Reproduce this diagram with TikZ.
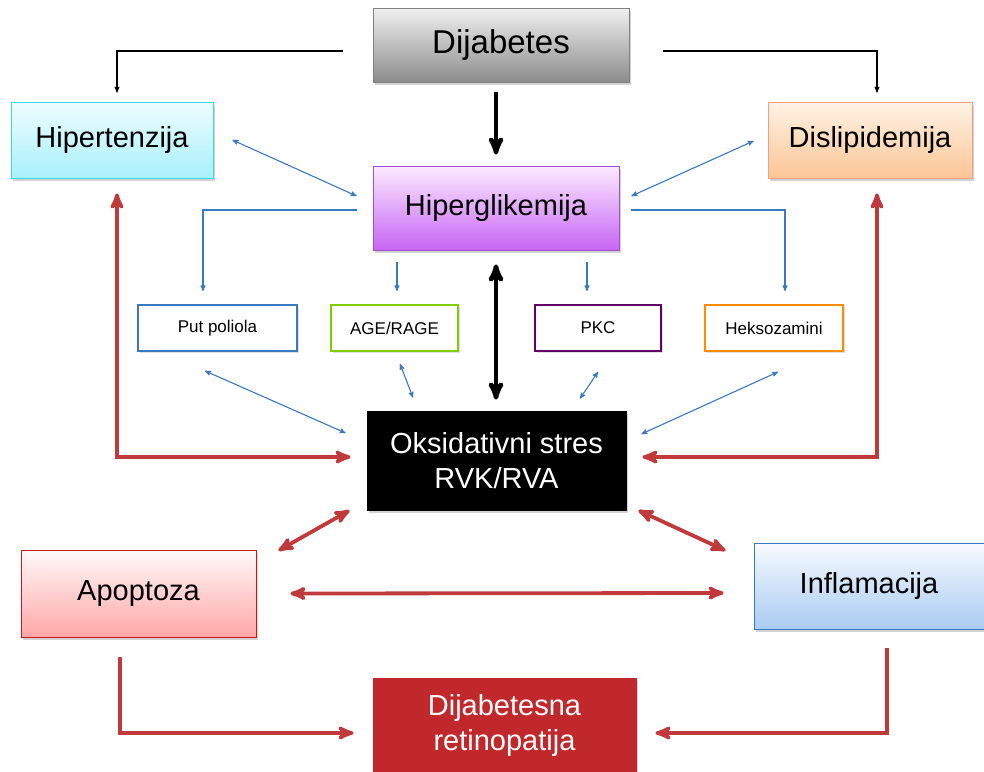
\documentclass[tikz,border=0pt]{standalone}
\usepackage{fontspec}
\setmainfont{Liberation Sans}
\usepackage{tikz}
\usetikzlibrary
  {
    arrows,      % extra arrow heads
    shadows,     % drop shadows under the boxes
    positioning, % place nodes relative to other nodes
    calc,
  }

\definecolor{arrowblue}{HTML}{3A78C0}
\definecolor{arrowred}{HTML}{C0393B}
\definecolor{retinared}{HTML}{C0282B}
\definecolor{violettop}{HTML}{FBEBFF}
\definecolor{violetbottom}{HTML}{C865F5}
\definecolor{violetline}{HTML}{A050C8}
\definecolor{bluetop}{HTML}{F7FBFF}
\definecolor{bluebottom}{HTML}{A9CBF2}
\definecolor{cyantop}{HTML}{EEFDFF}
\definecolor{cyanbottom}{HTML}{A8F0FA}
\definecolor{cyanline}{HTML}{3CD8EA}
\definecolor{orangetop}{HTML}{FFF3E6}
\definecolor{orangebottom}{HTML}{FBC595}
\definecolor{orangeline}{HTML}{F2A07E}

\begin{document}
\begin{tikzpicture}
    [
      x=1pt, y=-1pt,
      bigbox/.style=
        {
          rectangle,
          thick,
          inner sep=0pt,
          font=\fontsize{29}{35}\selectfont,
          align=center,
          drop shadow={shadow xshift=2pt, shadow yshift=-2.5pt, opacity=0.35},
        },
      smallbox/.style=
        {
          rectangle,
          draw,
          line width=1.8pt,
          fill=white,
          inner sep=0pt,
          minimum width=#1,
          minimum height=46pt,
          font=\fontsize{17}{20}\selectfont,
          drop shadow={shadow xshift=1.5pt, shadow yshift=-1.5pt, opacity=0.25},
        },
      thinblack/.style={->, >=stealth', line width=1.1pt},
      bigblack/.style={->, >=stealth', line width=4.4pt},
      bigboth/.style={<->, >=stealth', line width=4.4pt},
      thinblue/.style={->, >=stealth', line width=1.1pt, draw=arrowblue},
      blueboth/.style={<->, >=stealth', line width=1.1pt, draw=arrowblue},
      redboth/.style={<->, >=stealth', line width=3.8pt, draw=arrowred},
      redone/.style={->, >=stealth', line width=3.8pt, draw=arrowred},
    ]
    \fill[white] (0,0) rectangle (984,771);
    \useasboundingbox (0,0) rectangle (984,771);

    % upper row
    \node[bigbox, draw=black!50, top color=black!6, bottom color=black!45,
          minimum width=256pt, minimum height=74pt,
          font=\fontsize{33}{38}\selectfont]
      (dijabetes) at (501,45) {Dijabetes};
    \node[bigbox, draw=cyanline, top color=cyantop, bottom color=cyanbottom,
          minimum width=202pt, minimum height=76pt]
      (hipertenzija) at (112,140) {Hipertenzija};
    \node[bigbox, draw=orangeline, top color=orangetop, bottom color=orangebottom,
          minimum width=204pt, minimum height=76pt]
      (dislipidemija) at (870,140) {Dislipidemija};
    \node[bigbox, draw=violetline, top color=violettop, bottom color=violetbottom,
          minimum width=246pt, minimum height=84pt]
      (hiperglikemija) at (496,208) {Hiperglikemija};

    % metabolic pathways
    \node[smallbox=159pt, draw=arrowblue] (poliola) at (217.5,328) {Put poliola};
    \node[smallbox=127pt, draw=green!45!olive!70!yellow] (age) at (394.5,328) {AGE/RAGE};
    \node[smallbox=126pt, draw=violet!80!black] (pkc) at (598,328) {PKC};
    \node[smallbox=138pt, draw=orange!90!yellow] (heks) at (774,328) {Heksozamini};

    % lower part
    \node[bigbox, draw=black, fill=black, text=white,
          minimum width=259pt, minimum height=99pt]
      (stres) at (496.5,460.5) {Oksidativni stres\\RVK/RVA};
    \node[bigbox, draw=red!75!black!90, top color=red!2, bottom color=red!35,
          minimum width=235pt, minimum height=87pt]
      (apoptoza) at (138.5,593.5) {Apoptoza};
    \node[bigbox, draw=arrowblue, top color=bluetop, bottom color=bluebottom,
          minimum width=230pt, minimum height=86pt]
      (inflamacija) at (869,586) {Inflamacija};
    \node[bigbox, draw=retinared, fill=retinared, text=white,
          minimum width=263pt, minimum height=94pt]
      (retinopatija) at (504.5,725) {Dijabetesna\\retinopatija};

    % black connectors
    \draw[thinblack] ([shift={(-30,6)}]dijabetes.west) -| ([shift={(5,-9)}]hipertenzija.north);
    \draw[thinblack] ([shift={(34,6)}]dijabetes.east) -| ([shift={(7,-9)}]dislipidemija.north);
    \draw[bigblack] ([shift={(-5,10)}]dijabetes.south) -- ([shift={(0,-11)}]hiperglikemija.north);
    \draw[bigboth] ([shift={(0,14)}]hiperglikemija.south) -- ([shift={(-0.5,-11)}]stres.north);

    % blue connectors
    \draw[blueboth] ([xshift=19]hipertenzija.east) -- ([shift={(-16,-12)}]hiperglikemija.west);
    \draw[blueboth] ([shift={(-14,1)}]dislipidemija.west) -- ([shift={(12,-12)}]hiperglikemija.east);
    \draw[thinblue] ([shift={(-16,2)}]hiperglikemija.west) -| ([shift={(-14.5,-13)}]poliola.north);
    \draw[thinblue] ([shift={(2.5,-42)}]age.north) -- ([shift={(2.5,-13)}]age.north);
    \draw[thinblue] ([shift={(-11,-42)}]pkc.north) -- ([shift={(-11,-13)}]pkc.north);
    \draw[thinblue] ([shift={(12,2)}]hiperglikemija.east) -| ([shift={(11,-13)}]heks.north);
    \draw[blueboth] ([shift={(-12.5,19)}]poliola.south) -- ([shift={(-21,-27.5)}]stres.west);
    \draw[blueboth] ([shift={(5.5,12)}]age.south) -- ([shift={(-83.5,-13)}]stres.north);
    \draw[blueboth] ([shift={(0,20)}]pkc.south) -- ([shift={(83.5,-12)}]stres.north);
    \draw[blueboth] ([shift={(4,20)}]heks.south) -- ([shift={(15,-26.5)}]stres.east);

    % red connectors
    \draw[redboth] ([shift={(5,15)}]hipertenzija.south) |- ([shift={(-16,-3.5)}]stres.west);
    \draw[redboth] ([shift={(7,15)}]dislipidemija.south) |- ([shift={(16,-3.5)}]stres.east);
    \draw[redboth] ([xshift=-17]stres.south west) -- ([shift={(22,1)}]apoptoza.north east);
    \draw[redboth] ([xshift=12]stres.south east) -- ([shift={(-28,8)}]inflamacija.north west);
    \draw[redboth] ([xshift=34]apoptoza.east) -- ([shift={(-30,7)}]inflamacija.west);
    \draw[redone] ([shift={(-18.5,20)}]apoptoza.south) |- ([shift={(-19,8)}]retinopatija.west);
    \draw[redone] ([shift={(18,19)}]inflamacija.south) |- ([shift={(19,8)}]retinopatija.east);
  \end{tikzpicture}
\end{document}
